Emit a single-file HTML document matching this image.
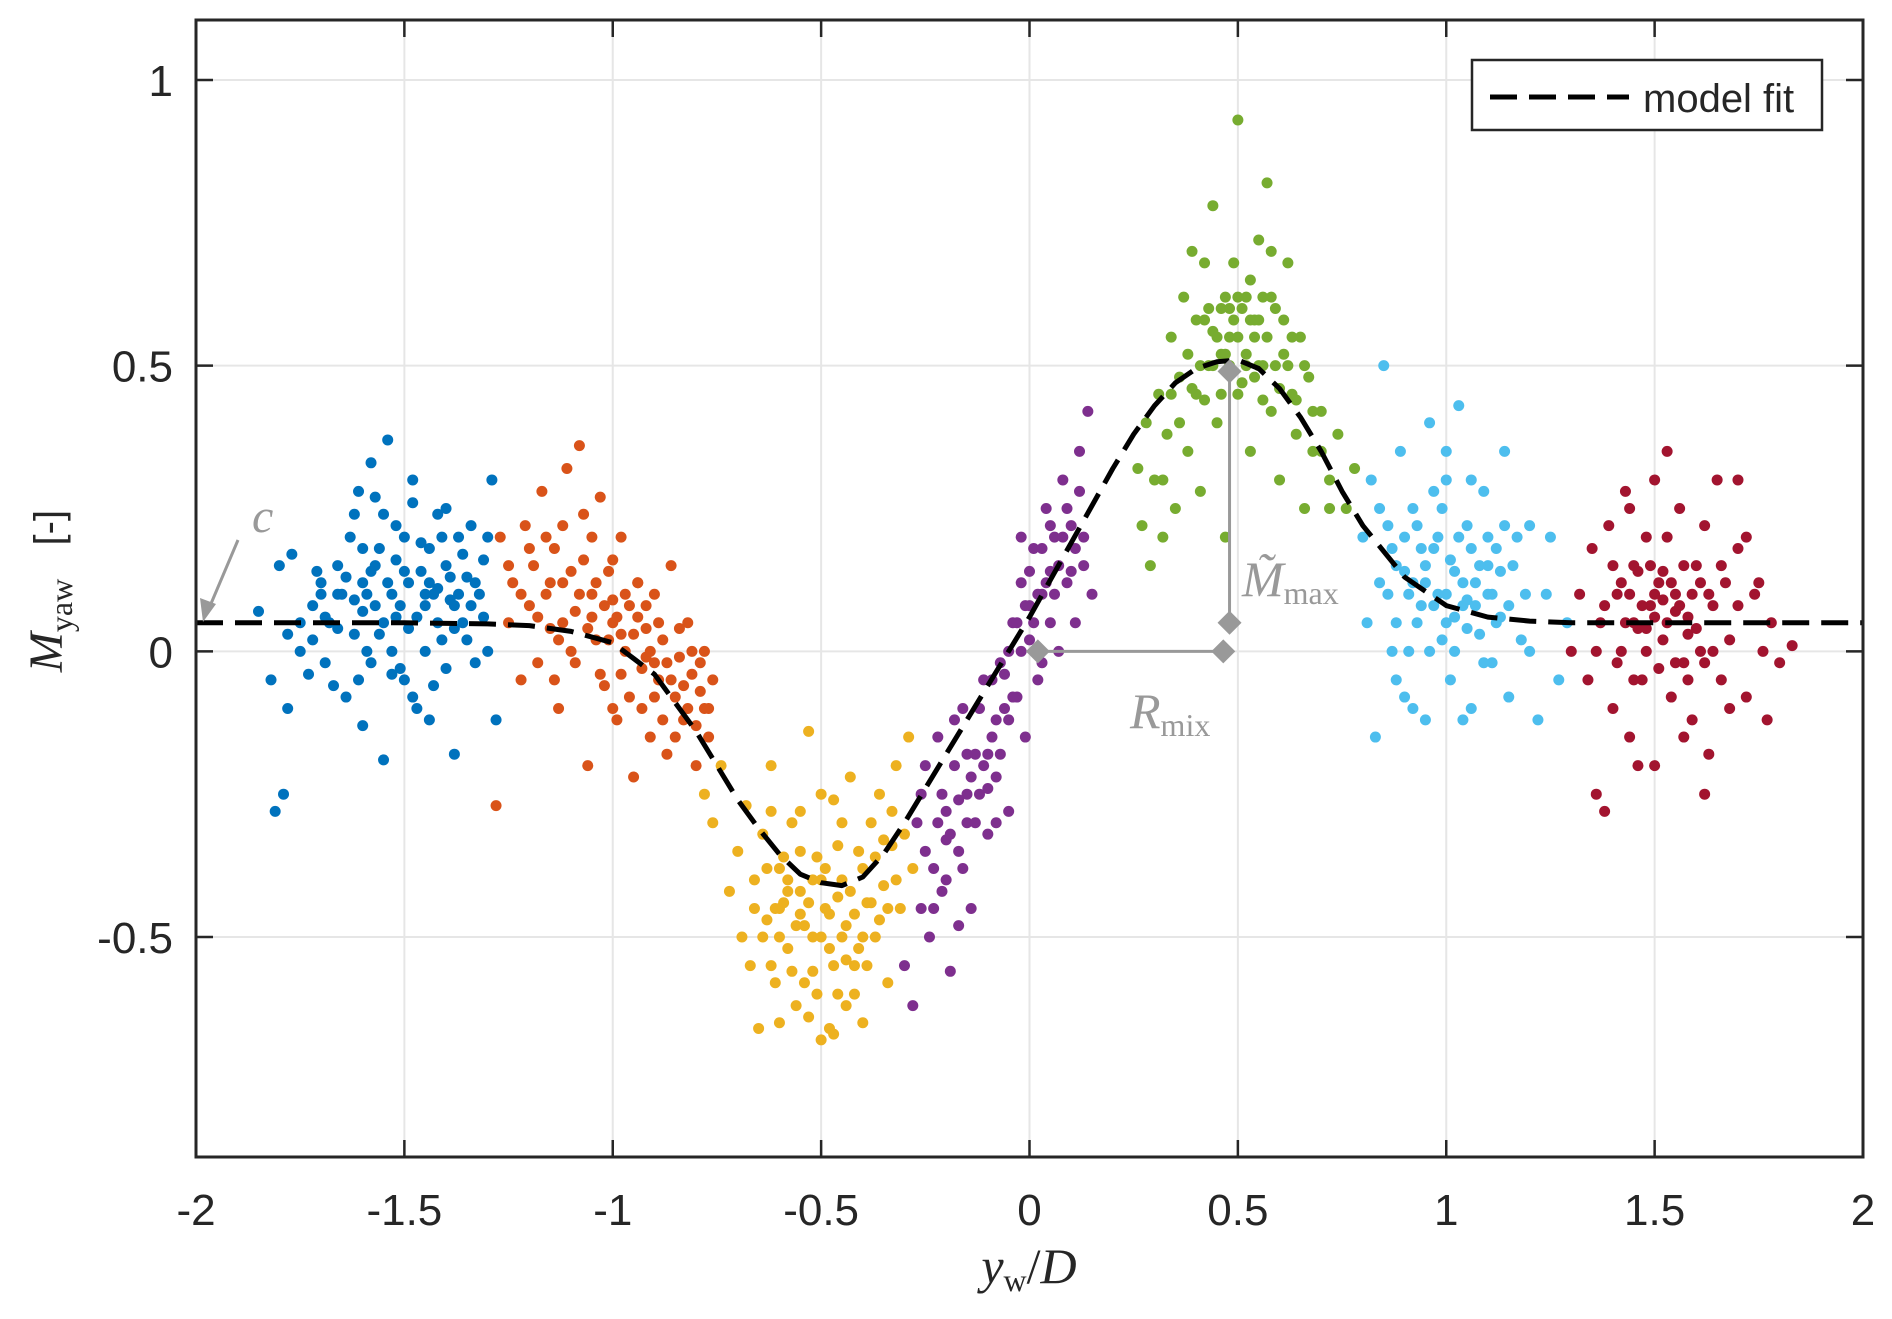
<!DOCTYPE html>
<html><head><meta charset="utf-8"><style>
html,body{margin:0;padding:0;background:#fff;}
svg{display:block;}
</style></head><body>
<svg id="chart" width="1892" height="1319" viewBox="0 0 1892 1319" xmlns="http://www.w3.org/2000/svg">
<rect x="0" y="0" width="1892" height="1319" fill="#fff"/>
<g id="grid"></g>
<g id="series"></g>
<g id="curve"></g>
<g id="annot"></g>
<g id="axes"></g>
<g id="legend">
<rect x="1472" y="60" width="350" height="70" fill="#fff" stroke="#262626" stroke-width="2.5"/>
<line x1="1490" y1="97" x2="1629" y2="97" stroke="#000" stroke-width="5" stroke-dasharray="27 12"/>
<text x="1643" y="112" font-family="Liberation Sans, sans-serif" font-size="40" fill="#262626">model fit</text>
</g>
<text transform="translate(62,591) rotate(-90)" text-anchor="middle" font-family="Liberation Serif, serif" font-size="48" fill="#262626"><tspan font-style="italic">M</tspan><tspan font-size="32" dy="10">yaw</tspan><tspan dy="-10" font-family="Liberation Sans, sans-serif" font-size="40" xml:space="preserve">   [-]</tspan></text>
<text x="1029" y="1283" text-anchor="middle" font-family="Liberation Serif, serif" font-size="50" fill="#262626"><tspan font-style="italic">y</tspan><tspan font-size="32" dy="8">w</tspan><tspan dy="-8">/</tspan><tspan font-style="italic">D</tspan></text>
</svg>
<script>
const xTicks=[-2,-1.5,-1,-0.5,0,0.5,1,1.5,2];
const xTickLabels=["-2","-1.5","-1","-0.5","0","0.5","1","1.5","2"];
const yTicks=[-0.5,0,0.5,1];
const yTickLabels=["-0.5","0","0.5","1"];
const seriesColors=["#0072BD","#D95319","#EDB120","#7E2F8E","#77AC30","#4DBEEE","#A2142F"];
const seriesNames=["blue","orange","yellow","purple","green","lightblue","red"];
const blueData=[-1.85,0.07,-1.82,-0.05,-1.81,-0.28,-1.80,0.15,-1.79,-0.25,-1.78,-0.1,-1.77,0.17,-1.75,0.0,-1.73,-0.04,-1.72,0.08,-1.70,0.12,-1.69,-0.02,-1.68,0.05,-1.66,0.15,-1.65,0.1,-1.64,-0.08,-1.63,0.2,-1.62,0.03,-1.61,0.28,-1.60,0.12,-1.59,0.0,-1.58,0.33,-1.57,0.08,-1.56,0.18,-1.55,-0.19,-1.55,0.05,-1.54,0.37,-1.53,0.1,-1.52,0.22,-1.51,-0.03,-1.50,0.14,-1.49,0.04,-1.48,0.3,-1.47,-0.1,-1.46,0.19,-1.45,0.08,-1.44,0.12,-1.43,-0.06,-1.42,0.24,-1.41,0.02,-1.40,0.15,-1.39,0.09,-1.38,-0.18,-1.37,0.2,-1.36,0.05,-1.35,0.13,-1.34,0.22,-1.33,-0.02,-1.32,0.1,-1.31,0.16,-1.30,0.0,-1.29,0.3,-1.28,-0.12,-1.60,0.07,-1.52,0.06,-1.45,0.1,-1.58,0.14,-1.50,-0.05,-1.42,0.11,-1.66,0.04,-1.70,0.1,-1.38,0.04,-1.34,0.08,
-1.72,0.02,-1.71,0.14,-1.69,0.06,-1.67,-0.06,-1.66,0.1,-1.64,0.13,-1.62,0.09,-1.61,-0.05,-1.6,0.18,-1.59,0.1,-1.58,-0.02,-1.57,0.15,-1.56,0.03,-1.55,0.24,-1.54,0.12,-1.53,-0.04,-1.52,0.16,-1.51,0.08,-1.5,0.2,-1.49,0.12,-1.48,-0.08,-1.47,0.06,-1.46,0.14,-1.45,0.0,-1.44,0.18,-1.43,0.1,-1.42,0.05,-1.41,0.2,-1.4,-0.03,-1.39,0.13,-1.38,0.08,-1.37,0.1,-1.36,0.17,-1.35,0.02,-1.33,0.12,-1.31,0.06,-1.3,0.2,-1.62,0.24,-1.57,0.27,-1.48,0.26,-1.4,0.25,-1.75,0.05,-1.78,0.03,-1.53,0.0,-1.44,-0.12,-1.6,-0.13];
const orangeData=[-1.28,-0.27,-1.27,0.2,-1.25,0.05,-1.24,0.12,-1.22,-0.05,-1.21,0.22,-1.20,0.08,-1.19,0.15,-1.18,-0.02,-1.17,0.28,-1.16,0.1,-1.15,0.04,-1.14,0.18,-1.13,-0.1,-1.12,0.12,-1.11,0.32,-1.10,0.0,-1.09,0.07,-1.08,0.36,-1.07,0.16,-1.06,-0.2,-1.05,0.1,-1.04,0.02,-1.03,0.27,-1.02,-0.06,-1.01,0.14,-1.00,0.05,-0.99,-0.12,-0.98,0.2,-0.97,0.0,-0.96,0.08,-0.95,-0.22,-0.94,0.12,-0.93,-0.03,-0.92,0.04,-0.91,-0.15,-0.90,0.1,-0.89,-0.05,-0.88,0.02,-0.87,-0.18,-0.86,0.15,-0.85,-0.08,-0.84,-0.01,-0.83,-0.12,-0.82,0.05,-0.81,-0.04,-0.80,-0.2,-0.79,-0.07,-0.78,0.0,-0.77,-0.1,-0.76,-0.05,-1.12,0.05,-1.05,0.06,-0.98,0.03,-0.92,-0.01,-1.0,0.09,-0.9,-0.02,
-1.22,0.1,-1.2,0.18,-1.18,0.06,-1.16,0.2,-1.15,0.12,-1.13,0.02,-1.12,0.22,-1.1,0.14,-1.09,-0.02,-1.08,0.1,-1.06,0.04,-1.05,0.2,-1.04,0.12,-1.03,-0.04,-1.02,0.08,-1.01,0.02,-1.0,0.16,-0.99,0.06,-0.98,-0.04,-0.97,0.1,-0.96,-0.08,-0.95,0.03,-0.94,0.06,-0.93,-0.1,-0.92,0.08,-0.91,0.0,-0.9,-0.08,-0.89,0.05,-0.88,-0.12,-0.87,-0.02,-0.86,-0.05,-0.85,-0.15,-0.84,0.04,-0.83,-0.06,-0.82,-0.1,-0.81,0.0,-0.8,-0.13,-0.79,-0.02,-0.78,-0.1,-0.77,-0.15,-1.07,0.24,-1.0,-0.1,-0.94,0.12,-1.14,-0.05,-1.25,0.15];
const yellowData=[-0.78,-0.25,-0.76,-0.3,-0.74,-0.2,-0.72,-0.42,-0.70,-0.35,-0.69,-0.5,-0.68,-0.27,-0.67,-0.55,-0.66,-0.4,-0.65,-0.66,-0.64,-0.32,-0.63,-0.47,-0.62,-0.2,-0.61,-0.58,-0.60,-0.38,-0.59,-0.44,-0.58,-0.52,-0.57,-0.3,-0.56,-0.62,-0.55,-0.42,-0.54,-0.48,-0.53,-0.14,-0.52,-0.56,-0.51,-0.36,-0.50,-0.68,-0.49,-0.45,-0.48,-0.52,-0.47,-0.26,-0.46,-0.6,-0.45,-0.4,-0.44,-0.48,-0.43,-0.22,-0.42,-0.55,-0.41,-0.35,-0.40,-0.65,-0.39,-0.44,-0.38,-0.3,-0.37,-0.5,-0.36,-0.25,-0.35,-0.41,-0.34,-0.58,-0.33,-0.34,-0.32,-0.2,-0.31,-0.45,-0.30,-0.32,-0.29,-0.15,-0.28,-0.38,-0.48,-0.66,-0.52,-0.5,-0.46,-0.43,-0.55,-0.46,-0.5,-0.4,-0.44,-0.54,-0.6,-0.45,-0.4,-0.5,
-0.66,-0.45,-0.64,-0.5,-0.63,-0.38,-0.62,-0.55,-0.61,-0.45,-0.6,-0.5,-0.59,-0.36,-0.58,-0.42,-0.57,-0.56,-0.56,-0.48,-0.55,-0.35,-0.54,-0.58,-0.53,-0.44,-0.52,-0.4,-0.51,-0.6,-0.5,-0.5,-0.49,-0.38,-0.48,-0.46,-0.47,-0.55,-0.46,-0.34,-0.45,-0.5,-0.44,-0.62,-0.43,-0.42,-0.42,-0.46,-0.41,-0.52,-0.4,-0.38,-0.39,-0.55,-0.38,-0.44,-0.37,-0.36,-0.36,-0.47,-0.35,-0.33,-0.34,-0.45,-0.33,-0.28,-0.32,-0.4,-0.55,-0.28,-0.5,-0.25,-0.45,-0.3,-0.6,-0.65,-0.53,-0.64,-0.47,-0.67,-0.42,-0.6,-0.58,-0.4,-0.62,-0.28];
const purpleData=[-0.30,-0.55,-0.28,-0.62,-0.27,-0.3,-0.26,-0.45,-0.25,-0.2,-0.24,-0.5,-0.23,-0.38,-0.22,-0.15,-0.21,-0.42,-0.20,-0.28,-0.19,-0.56,-0.18,-0.2,-0.17,-0.35,-0.16,-0.1,-0.15,-0.3,-0.14,-0.45,-0.13,-0.18,-0.12,-0.25,-0.11,-0.05,-0.10,-0.32,-0.09,-0.15,-0.08,-0.22,-0.07,-0.02,-0.06,-0.1,-0.05,-0.28,-0.04,0.05,-0.03,-0.08,-0.02,0.12,-0.01,-0.15,0.00,0.02,0.01,0.18,0.02,-0.05,0.03,0.1,0.04,0.25,0.05,0.05,0.06,0.2,0.07,0.0,0.08,0.3,0.09,0.12,0.10,0.22,0.11,0.05,0.12,0.35,0.13,0.15,0.14,0.42,0.15,0.1,-0.15,-0.25,-0.1,-0.18,-0.05,-0.12,0.0,0.08,0.05,0.14,-0.2,-0.33,
-0.22,-0.3,-0.21,-0.25,-0.2,-0.4,-0.19,-0.32,-0.18,-0.12,-0.17,-0.26,-0.16,-0.38,-0.15,-0.18,-0.14,-0.22,-0.13,-0.3,-0.12,-0.1,-0.11,-0.2,-0.1,-0.24,-0.09,-0.05,-0.08,-0.12,-0.07,-0.18,-0.06,-0.04,-0.05,0.0,-0.04,-0.08,-0.03,0.05,-0.02,0.0,-0.01,0.08,0.0,0.14,0.01,0.05,0.02,0.1,0.03,0.18,0.04,0.12,0.05,0.22,0.06,0.1,0.07,0.15,0.08,0.2,0.09,0.25,0.1,0.14,0.11,0.18,0.12,0.28,0.13,0.2,-0.25,-0.35,-0.23,-0.45,-0.17,-0.48,-0.08,-0.3,0.03,-0.02,-0.26,-0.25,-0.02,0.2];
const greenData=[0.26,0.32,0.27,0.22,0.28,0.4,0.29,0.15,0.30,0.3,0.31,0.45,0.32,0.2,0.33,0.38,0.34,0.55,0.35,0.25,0.36,0.48,0.37,0.62,0.38,0.35,0.39,0.7,0.40,0.45,0.41,0.28,0.42,0.58,0.43,0.5,0.44,0.78,0.45,0.4,0.46,0.6,0.47,0.2,0.48,0.55,0.49,0.68,0.50,0.93,0.51,0.47,0.52,0.62,0.53,0.35,0.54,0.55,0.55,0.72,0.56,0.5,0.57,0.82,0.58,0.42,0.59,0.6,0.60,0.3,0.61,0.52,0.62,0.68,0.63,0.45,0.64,0.38,0.65,0.55,0.66,0.25,0.67,0.48,0.68,0.35,0.70,0.42,0.72,0.3,0.74,0.38,0.76,0.25,0.78,0.32,0.46,0.52,0.50,0.55,0.54,0.58,0.48,0.6,0.52,0.5,0.44,0.56,0.56,0.62,
0.38,0.52,0.39,0.46,0.4,0.58,0.41,0.5,0.42,0.44,0.43,0.6,0.44,0.5,0.45,0.55,0.46,0.45,0.47,0.62,0.48,0.5,0.49,0.58,0.5,0.45,0.51,0.6,0.52,0.52,0.53,0.65,0.54,0.48,0.55,0.58,0.56,0.44,0.57,0.55,0.58,0.62,0.59,0.5,0.6,0.46,0.61,0.58,0.62,0.5,0.63,0.55,0.64,0.44,0.66,0.5,0.68,0.42,0.36,0.4,0.34,0.45,0.7,0.35,0.42,0.68,0.58,0.7,0.5,0.62,0.53,0.58,0.47,0.52,0.55,0.5,0.32,0.3,0.72,0.25];
const lightblueData=[0.80,0.2,0.81,0.05,0.82,0.3,0.83,-0.15,0.84,0.12,0.85,0.5,0.86,0.22,0.87,0.0,0.88,0.15,0.89,0.35,0.90,-0.08,0.91,0.1,0.92,0.25,0.93,0.05,0.94,0.18,0.95,-0.12,0.96,0.4,0.97,0.08,0.98,0.2,0.99,0.02,1.00,0.3,1.01,-0.05,1.02,0.14,1.03,0.43,1.04,0.08,1.05,0.22,1.06,-0.1,1.07,0.12,1.08,0.03,1.09,0.28,1.10,0.1,1.11,-0.02,1.12,0.18,1.13,0.06,1.14,0.35,1.15,-0.08,1.16,0.15,1.18,0.02,1.20,0.22,1.22,-0.12,1.24,0.1,1.25,0.2,1.27,-0.05,1.29,0.05,0.95,0.12,1.0,0.1,1.05,0.09,0.9,0.14,1.1,0.15,1.02,0.06,
0.86,0.1,0.87,0.18,0.88,0.05,0.9,0.2,0.91,0.0,0.92,0.12,0.93,0.22,0.94,0.08,0.95,0.15,0.96,0.0,0.97,0.18,0.98,0.1,0.99,0.25,1.0,0.05,1.01,0.16,1.02,0.0,1.03,0.2,1.04,0.12,1.05,0.04,1.06,0.18,1.07,0.08,1.08,0.15,1.09,-0.02,1.1,0.2,1.11,0.1,1.12,0.05,1.13,0.14,1.15,0.08,1.17,0.2,1.19,0.1,0.84,0.25,0.88,-0.05,1.0,0.35,1.06,0.3,1.14,0.22,1.2,0.0,0.92,-0.1,1.04,-0.12,0.97,0.28];
const redData=[1.30,0.0,1.32,0.1,1.34,-0.05,1.35,0.18,1.36,-0.25,1.37,0.05,1.38,-0.28,1.39,0.22,1.40,-0.1,1.41,0.1,1.42,0.0,1.43,0.28,1.44,-0.15,1.45,0.15,1.46,0.04,1.47,-0.05,1.48,0.2,1.49,0.08,1.50,-0.2,1.51,0.12,1.52,0.02,1.53,0.35,1.54,-0.08,1.55,0.1,1.56,0.25,1.57,-0.02,1.58,0.06,1.59,-0.12,1.60,0.15,1.61,0.0,1.62,0.22,1.63,-0.18,1.64,0.08,1.65,0.3,1.66,-0.05,1.67,0.12,1.68,0.02,1.70,0.18,1.72,-0.08,1.74,0.1,1.76,0.0,1.78,0.05,1.80,-0.02,1.83,0.01,1.5,0.06,1.48,0.04,1.55,0.07,1.52,0.09,1.45,0.05,1.58,0.03,
1.38,0.08,1.4,0.15,1.41,-0.02,1.42,0.12,1.43,0.05,1.44,0.1,1.45,-0.05,1.46,0.14,1.47,0.08,1.48,0.0,1.49,0.15,1.5,0.1,1.51,-0.03,1.52,0.14,1.53,0.05,1.54,0.12,1.55,-0.02,1.56,0.08,1.57,0.15,1.58,-0.05,1.59,0.1,1.6,0.04,1.61,0.12,1.62,-0.02,1.63,0.1,1.64,0.0,1.66,0.15,1.68,-0.1,1.7,0.08,1.72,0.2,1.75,0.12,1.77,-0.12,1.36,0.0,1.44,0.25,1.5,0.3,1.57,-0.15,1.62,-0.25,1.7,0.3,1.53,0.2,1.46,-0.2];
const curveX=[-2,-1.5,-1.3,-1.2,-1.1,-1.0,-0.9,-0.8,-0.7,-0.65,-0.6,-0.55,-0.5,-0.45,-0.4,-0.35,-0.3,-0.25,-0.2,-0.1,0,0.1,0.2,0.25,0.3,0.35,0.4,0.45,0.5,0.55,0.6,0.65,0.7,0.75,0.8,0.9,1.0,1.1,1.2,1.3,1.5,2];
const curveY=[0.05,0.05,0.048,0.045,0.035,0.015,-0.04,-0.14,-0.26,-0.31,-0.355,-0.39,-0.405,-0.41,-0.395,-0.355,-0.3,-0.24,-0.18,-0.06,0.06,0.19,0.32,0.38,0.43,0.47,0.495,0.507,0.51,0.495,0.46,0.41,0.35,0.28,0.22,0.13,0.08,0.06,0.053,0.05,0.05,0.05];
const allSeries=[blueData,orangeData,yellowData,purpleData,greenData,lightblueData,redData];

const L=196,R=1863,T=20,B=1157,XMIN=-2,XMAX=2,YMIN=-0.885,YMAX=1.105;
const sx=v=>L+(v-XMIN)/(XMAX-XMIN)*(R-L);
const sy=v=>B-(v-YMIN)/(YMAX-YMIN)*(B-T);
const NS="http://www.w3.org/2000/svg";
function mk(tag,attrs,parent){const e=document.createElementNS(NS,tag);for(const k in attrs)e.setAttribute(k,attrs[k]);parent.appendChild(e);return e;}
const grid=document.getElementById('grid'),axes=document.getElementById('axes');
xTicks.forEach((t,i)=>{
  const X=sx(t);
  const g=mk('line',{x1:X,x2:X,y1:T,y2:B,stroke:'#e6e6e6','stroke-width':2},grid);
  
  
  mk('line',{x1:X,x2:X,y1:B,y2:B-17,stroke:'#262626','stroke-width':2.5},axes);
  mk('line',{x1:X,x2:X,y1:T,y2:T+17,stroke:'#262626','stroke-width':2.5},axes);
  const tx=mk('text',{x:X,y:1225,'text-anchor':'middle','font-family':'Liberation Sans, sans-serif','font-size':44,fill:'#262626'},axes);
  tx.textContent=xTickLabels[i];
  
  
});
yTicks.forEach((t,i)=>{
  const Y=sy(t);
  const g=mk('line',{x1:L,x2:R,y1:Y,y2:Y,stroke:'#e6e6e6','stroke-width':2},grid);
  
  
  mk('line',{x1:L,x2:L+17,y1:Y,y2:Y,stroke:'#262626','stroke-width':2.5},axes);
  mk('line',{x1:R,x2:R-17,y1:Y,y2:Y,stroke:'#262626','stroke-width':2.5},axes);
  const tx=mk('text',{x:173,y:Y+16,'text-anchor':'end','font-family':'Liberation Sans, sans-serif','font-size':44,fill:'#262626'},axes);
  tx.textContent=yTickLabels[i];
  
  
});
const frame=mk('rect',{x:L,y:T,width:R-L,height:B-T,fill:'none',stroke:'#262626','stroke-width':3},axes);



const ser=document.getElementById('series');
allSeries.forEach((arr,si)=>{
  const g=mk('g',{fill:seriesColors[si]},ser);
  
  
  for(let i=0;i<arr.length;i+=2){
    const c=mk('circle',{cx:sx(arr[i]),cy:sy(arr[i+1]),r:5.5},g);
    
    
  }
});
let d='';
curveX.forEach((x,i)=>{d+=(i?'L':'M')+sx(x).toFixed(1)+' '+sy(curveY[i]).toFixed(1)+' ';});
const cp=mk('path',{d:d,fill:'none',stroke:'#000','stroke-width':5,'stroke-dasharray':'27 12','stroke-linejoin':'round'},document.getElementById('curve'));



const an=document.getElementById('annot');
const gray='#999';
function diamond(x,y){const X=sx(x),Y=sy(y);const p=mk('polygon',{points:`${X},${Y-12} ${X+12},${Y} ${X},${Y+12} ${X-12},${Y}`,fill:gray},an);

}
const vl=mk('line',{x1:sx(0.48),x2:sx(0.48),y1:sy(0.49),y2:sy(0.05),stroke:gray,'stroke-width':3},an);


const hl=mk('line',{x1:sx(0.02),x2:sx(0.47),y1:sy(0),y2:sy(0),stroke:gray,'stroke-width':3},an);


diamond(0.48,0.49);diamond(0.48,0.05);diamond(0.02,0);diamond(0.465,0);
const ar=mk('line',{x1:238,y1:540,x2:210,y2:606,stroke:gray,'stroke-width':3},an);


mk('polygon',{points:'203,622 200,598 216,604',fill:gray},an);
const ct=mk('text',{x:252,y:532,'font-family':'Liberation Serif, serif','font-style':'italic','font-size':48,fill:gray},an);
ct.textContent='c';


const mt=mk('text',{x:1242,y:596,'font-family':'Liberation Serif, serif','font-size':50,fill:gray},an);
mt.innerHTML='<tspan font-style="italic">M̃</tspan><tspan font-size="32" dy="8">max</tspan>';


const rt=mk('text',{x:1130,y:728,'font-family':'Liberation Serif, serif','font-size':50,fill:gray},an);
rt.innerHTML='<tspan font-style="italic">R</tspan><tspan font-size="32" dy="8">mix</tspan>';


</script>
</body></html>
